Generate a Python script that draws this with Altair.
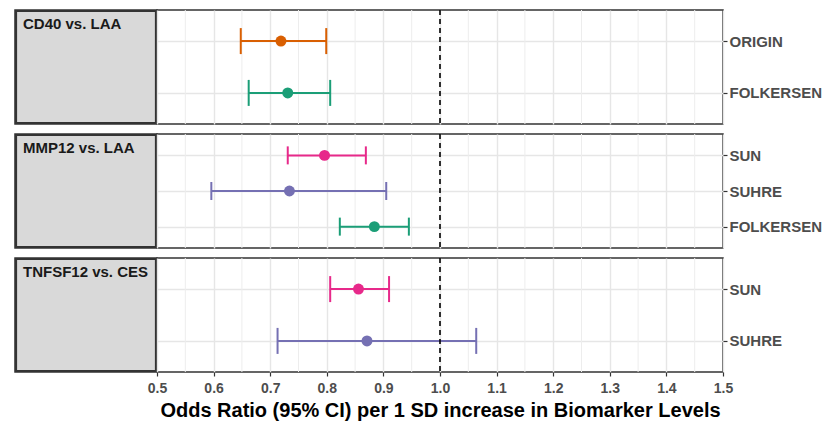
import altair as alt
import pandas as pd

FONT = "Liberation Sans"

# ---- data ----
groups = ["CD40 vs. LAA", "MMP12 vs. LAA", "TNFSF12 vs. CES"]
row_group = ["CD40 vs. LAA", "CD40 vs. LAA",
             "MMP12 vs. LAA", "MMP12 vs. LAA", "MMP12 vs. LAA",
             "TNFSF12 vs. CES", "TNFSF12 vs. CES"]
studies = ["ORIGIN", "FOLKERSEN", "SUN", "SUHRE", "FOLKERSEN", "SUN", "SUHRE"]
odds = [0.719, 0.731, 0.796, 0.734, 0.884, 0.856, 0.871]
lower = [0.648, 0.662, 0.731, 0.596, 0.823, 0.806, 0.713]
upper = [0.799, 0.806, 0.869, 0.905, 0.945, 0.910, 1.064]

study_domain = ["ORIGIN", "FOLKERSEN", "SUN", "SUHRE"]
study_colors = ["#D95F02", "#1B9E77", "#E7298A", "#7570B3"]

x_ticks = [0.5, 0.6, 0.7, 0.8, 0.9, 1.0, 1.1, 1.2, 1.3, 1.4, 1.5]
x_minor = [0.55, 0.65, 0.75, 0.85, 0.95, 1.05, 1.15, 1.25, 1.35, 1.45]
ref_line = [1.0]
x_title = "Odds Ratio (95% CI) per 1 SD increase in Biomarker Levels"

df = pd.DataFrame({"group": row_group, "study": studies, "or": odds,
                   "lo": lower, "hi": upper})
minor_df = pd.DataFrame({"v": x_minor})
ref_df = pd.DataFrame({"v": ref_line})

STRIP_W = 142
PLOT_W = 566
PANEL_H = 114

GRID_C = "#E6E6E6"
color_scale = alt.Scale(domain=study_domain, range=study_colors)
x_scale = alt.Scale(domain=[0.5, 1.5], nice=False, zero=False)


def make_panel(g, bottom, cap):
    sub = df[df["group"] == g]
    order = list(sub["study"])
    if bottom:
        x_axis = alt.Axis(values=x_ticks, format=".1f", title=x_title, grid=True,
                          labelFont=FONT, labelFontSize=14, labelFontWeight="bold",
                          labelColor="#4D4D4D", labelFlush=False, tickSize=4,
                          tickColor="#333333", tickWidth=1.2, domain=False,
                          gridColor=GRID_C, gridWidth=1.4, labelPadding=5,
                          titleFont=FONT, titleFontSize=20, titleFontWeight="bold",
                          titleColor="#000000", titlePadding=5)
    else:
        x_axis = alt.Axis(values=x_ticks, labels=False, ticks=False, title=None,
                          grid=True, domain=False, gridColor=GRID_C, gridWidth=1.4)
    y_enc = alt.Y("study:N", sort=order,
                  scale=alt.Scale(type="point", padding=0.6),
                  axis=alt.Axis(orient="right", title=None, labelFont=FONT,
                                labelFontSize=15, labelFontWeight="bold",
                                labelColor="#4D4D4D", tickSize=4, tickColor="#333333",
                                tickWidth=1.2, labelPadding=2, domain=False,
                                grid=True, gridColor=GRID_C, gridWidth=1.4))
    col = alt.Color("study:N", scale=color_scale, legend=None)

    minor = alt.Chart(minor_df).mark_rule(color="#EDEDED", strokeWidth=1.0).encode(
        x=alt.X("v:Q", scale=x_scale, axis=x_axis))
    base = alt.Chart(sub)
    bars = base.mark_rule(strokeWidth=2).encode(
        x=alt.X("lo:Q", scale=x_scale, axis=x_axis), x2="hi:Q", y=y_enc, color=col)
    cap_lo = base.mark_tick(thickness=2, size=cap, opacity=1).encode(
        x=alt.X("lo:Q", scale=x_scale, axis=x_axis), y=y_enc, color=col)
    cap_hi = base.mark_tick(thickness=2, size=cap, opacity=1).encode(
        x=alt.X("hi:Q", scale=x_scale, axis=x_axis), y=y_enc, color=col)
    pts = base.mark_circle(size=120, opacity=1).encode(
        x=alt.X("or:Q", scale=x_scale, axis=x_axis), y=y_enc, color=col)
    ref = alt.Chart(ref_df).mark_rule(color="black", strokeWidth=1.6,
                                      strokeDash=[5, 4]).encode(
        x=alt.X("v:Q", scale=x_scale, axis=x_axis))
    plot = alt.layer(minor, bars, cap_lo, cap_hi, pts, ref).properties(
        width=PLOT_W, height=PANEL_H)

    strip_base = alt.Chart(pd.DataFrame({"label": [g]}))
    rect = strip_base.mark_rect(fill="#D9D9D9", stroke="#333333", strokeWidth=2.2).encode(
        x=alt.value(1), x2=alt.value(STRIP_W - 1), y=alt.value(1), y2=alt.value(PANEL_H - 1))
    txt = strip_base.mark_text(align="left", baseline="alphabetic", font=FONT,
                               fontSize=15, fontWeight="bold", color="#1A1A1A").encode(
        x=alt.value(8), y=alt.value(19), text="label:N")
    strip = alt.layer(rect, txt).properties(width=STRIP_W, height=PANEL_H)
    return alt.hconcat(strip, plot, spacing=0, bounds="flush")


caps = [26, 18, 26]
panels = [make_panel(g, i == len(groups) - 1, caps[i]) for i, g in enumerate(groups)]

chart = alt.vconcat(*panels, spacing=6).properties(
    padding={"left": 14, "top": 8, "right": 0, "bottom": 0},
    background="white",
).configure_view(stroke="#333333", strokeWidth=1.5)

chart.save("out.html", embed_options={"renderer": "svg", "actions": False})
